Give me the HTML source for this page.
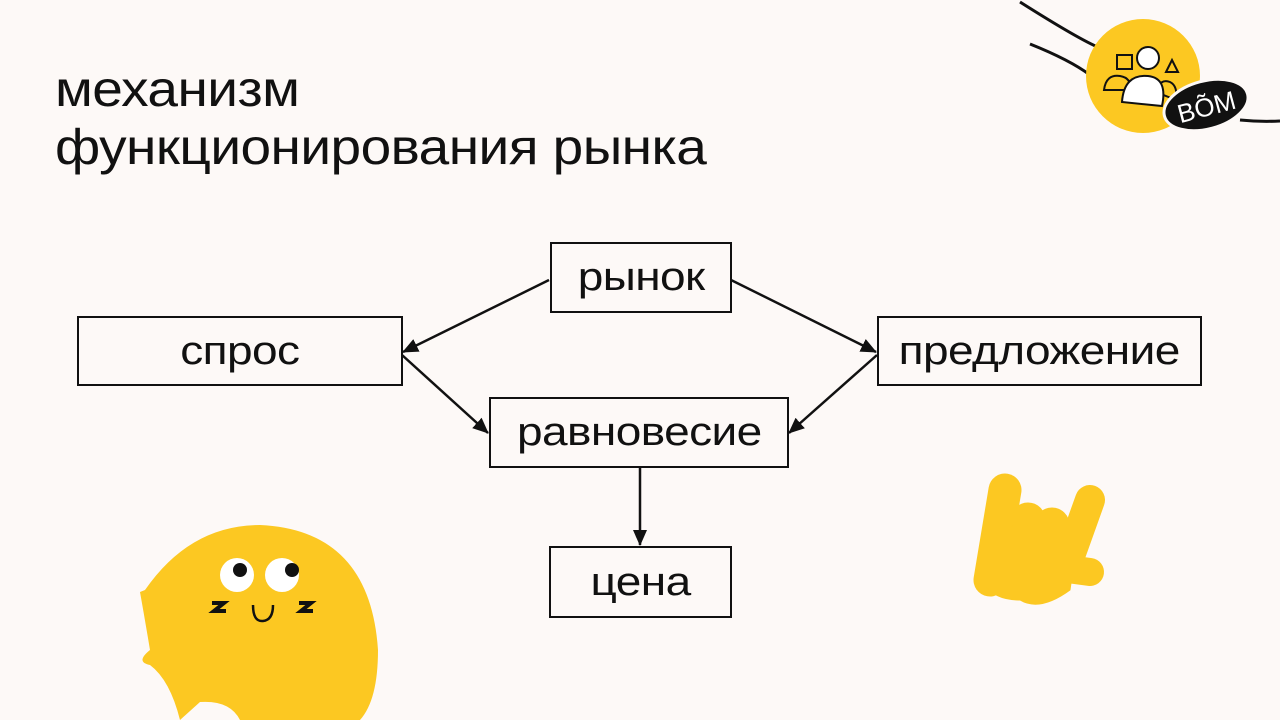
<!DOCTYPE html>
<html><head><meta charset="utf-8"><style>
body{margin:0;width:1280px;height:720px;overflow:hidden;background:#fdf9f7;font-family:"Liberation Sans",sans-serif}
.t{position:absolute;left:55px;font-size:50px;color:#111;letter-spacing:-0.5px;transform:scaleX(1.1);transform-origin:0 0;white-space:nowrap}
.b{position:absolute;box-sizing:border-box;border:2.5px solid #111;background:#fdf9f7;display:flex;align-items:center;justify-content:center;font-size:40px;color:#111;letter-spacing:-0.5px}
.b span{display:inline-block;transform:scaleX(1.15)}
</style></head><body>
<svg width="1280" height="720" style="position:absolute;left:0;top:0">
<defs>
<marker id="m" markerWidth="16" markerHeight="16" refX="15" refY="8" orient="auto" markerUnits="userSpaceOnUse"><path d="M0,1L16,8L0,15z" fill="#111"/></marker></defs>
<g stroke="#111" stroke-width="2.5" fill="none">
<line x1="549" y1="280" x2="403" y2="352" marker-end="url(#m)"/>
<line x1="731" y1="280" x2="876" y2="352" marker-end="url(#m)"/>
<line x1="402" y1="355" x2="488" y2="433" marker-end="url(#m)"/>
<line x1="877" y1="355" x2="789" y2="433" marker-end="url(#m)"/>
<line x1="640" y1="467" x2="640" y2="545" marker-end="url(#m)"/>
</g>
<path d="M1020 2 Q1080 40 1100 48" stroke="#111" stroke-width="3" fill="none"/>
<path d="M1030 44 Q1070 60 1090 75" stroke="#111" stroke-width="3" fill="none"/>
<path d="M1240 120 Q1260 122 1280 121" stroke="#111" stroke-width="3" fill="none"/>
<circle cx="1143" cy="76" r="57" fill="#fcc822"/>
<g stroke="#111" stroke-width="2" fill="#fff">
<rect x="1117" y="55" width="15" height="14" fill="#fcc822"/>
<path d="M1166 72 L1172 60 L1178 72z" fill="#fcc822"/>
<path d="M1104 90 Q1106 74 1120 76 Q1132 78 1130 90z" fill="#fcc822"/>
<path d="M1156 92 Q1160 78 1170 82 Q1178 86 1176 100z" fill="#fcc822"/>
<circle cx="1148" cy="58" r="11"/>
<path d="M1122 102 Q1124 74 1148 76 Q1168 78 1162 106z"/>
</g>
<ellipse cx="1206" cy="105" rx="43" ry="24" transform="rotate(-15 1206 105)" fill="#111" stroke="#fdf9f7" stroke-width="3"/>
<text x="1206" y="116" font-size="26" fill="#fff" text-anchor="middle" transform="rotate(-15 1206 105)" font-family="Liberation Sans">BÕM</text>
<path d="M145 590 Q190 525 260 525 Q370 530 378 650 Q378 700 360 720 L240 720 Q230 700 200 702 L180 720 Q170 680 150 665 Q135 662 150 650 Q145 620 140 592z" fill="#fcc822"/>
<circle cx="237" cy="575" r="17" fill="#fff"/><circle cx="282" cy="575" r="17" fill="#fff"/>
<circle cx="240" cy="570" r="7" fill="#111"/><circle cx="292" cy="570" r="7" fill="#111"/>
<path d="M253 605 Q253 622 263 621 Q273 620 273 605" stroke="#111" stroke-width="2.5" fill="none"/>
<path d="M212 603h12l-10 8h12" stroke="#111" stroke-width="4" fill="none"/>
<path d="M299 603h12l-10 8h12" stroke="#111" stroke-width="4" fill="none"/>
<g fill="#fcc822" stroke="#fcc822" stroke-linecap="round">
<line x1="1005" y1="490" x2="990" y2="580" stroke-width="33"/>
<line x1="1090" y1="500" x2="1065" y2="570" stroke-width="30"/>
<line x1="1060" y1="568" x2="1090" y2="572" stroke-width="28"/>
<circle cx="1028" cy="520" r="17"/><circle cx="1052" cy="525" r="17"/>
<path d="M985 530 L1080 520 L1070 590 Q1040 612 1020 600 Q995 600 985 585z"/>
</g>
</svg>
<div class="t" style="top:60px">механизм</div>
<div class="t" style="top:118px">функционирования рынка</div>
<div class="b" style="left:550px;top:242px;width:182px;height:71px"><span>рынок</span></div>
<div class="b" style="left:77px;top:316px;width:326px;height:70px"><span>спрос</span></div>
<div class="b" style="left:877px;top:316px;width:325px;height:70px"><span>предложение</span></div>
<div class="b" style="left:489px;top:397px;width:300px;height:71px"><span>равновесие</span></div>
<div class="b" style="left:549px;top:546px;width:183px;height:72px"><span>цена</span></div>
</body></html>
